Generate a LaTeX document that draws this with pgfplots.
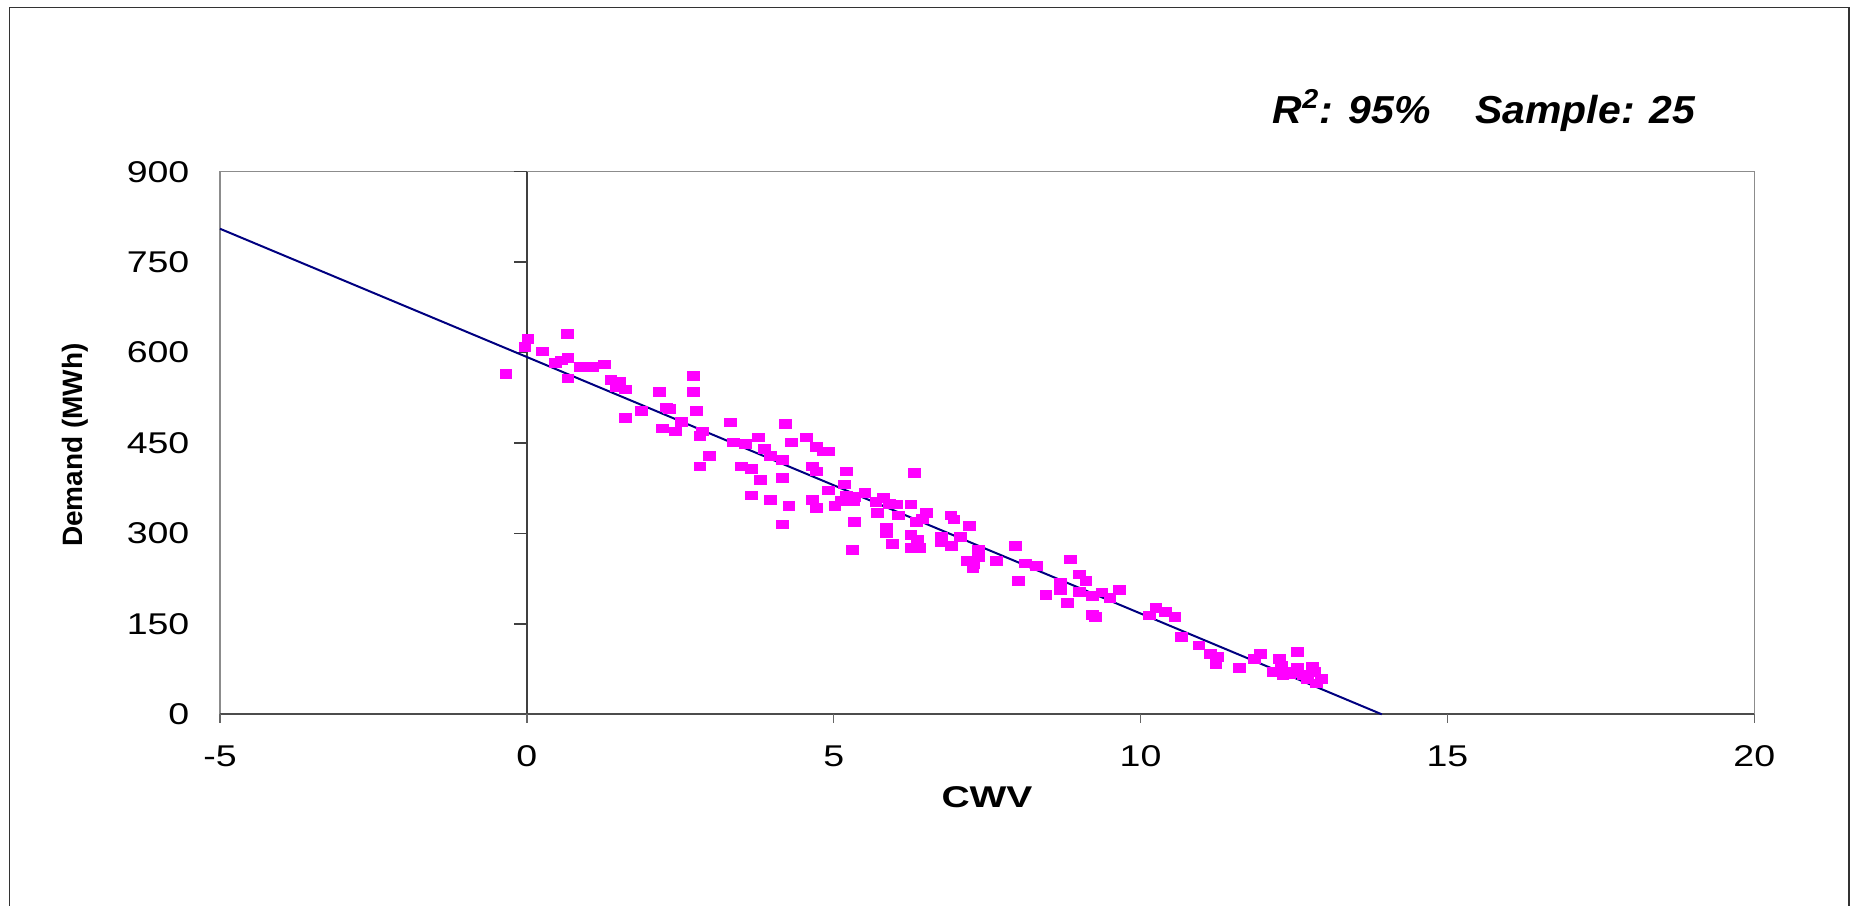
\documentclass[border=0pt]{standalone}
\usepackage{pgfplots}
\pgfplotsset{compat=1.18}
\usepackage{fontspec}
\setmainfont{Liberation Sans}
\newfontfamily\arialw[FakeStretch=1.25]{Liberation Sans}
\newfontfamily\arialcwv[FakeStretch=1.3]{Liberation Sans}
\newfontfamily\arialt[FakeStretch=1.05]{Liberation Sans}
\definecolor{mag}{RGB}{255,0,255}
\definecolor{navyline}{RGB}{0,0,128}
\definecolor{framegray}{RGB}{140,140,140}
\begin{document}
\begin{tikzpicture}
\useasboundingbox (0pt,0pt) rectangle (555.9pt,271.5pt);
% outer chart frame (bottom side falls outside the picture)
\draw[black!80, line width=0.5pt] (2.85pt,-2pt) -- (2.85pt,269.25pt) -- (554.7pt,269.25pt) -- (554.7pt,-2pt);
\begin{axis}[
  at={(66pt,57.21pt)}, anchor=south west,
  scale only axis, width=460.29pt, height=162.78pt,
  xmin=-5, xmax=20, ymin=0, ymax=900,
  xtick={-5,0,5,10,15,20}, xticklabels={-5,0,5,10,15,20},
  ytick={0,150,300,450,600,750,900}, yticklabels={0,150,300,450,600,750,900},
  major tick length=0pt, tick style={draw=none},
  axis line style={draw=framegray, line width=0.45pt},
  ticklabel style={font=\arialw\fontsize{9}{10}\selectfont, inner sep=0pt},
  xticklabel style={anchor=north, yshift=-9.2pt},
  yticklabel style={anchor=east, xshift=-9pt},
  clip=false,
]
% y axis line at x = 0 and its ticks
\draw[black!75, line width=0.4pt] (axis cs:0,0) -- (axis cs:0,900);
\pgfplotsinvokeforeach{0,150,300,450,600,750,900}{\draw[black!75, line width=0.4pt] (axis cs:0,#1) -- ++(-3.9pt,0pt);}
% x axis line at y = 0 and its ticks
\draw[black!70, line width=0.5pt] (axis cs:-5,0) -- (axis cs:20,0);
\pgfplotsinvokeforeach{-5,0,5,10,15,20}{\draw[black!60, line width=0.4pt] (axis cs:#1,0) -- ++(0pt,-2.7pt);}
\addplot[only marks, mark=square*, mark size=1.25pt, mark options={xscale=1.375, draw=mag, fill=mag}] coordinates {
(-0.34,565) (0.02,623) (-0.03,609) (0.66,631) (0.26,602) (0.47,583) (0.56,587) (0.67,591) (0.67,557)
(0.87,576) (1.07,576) (1.27,580) (1.37,554) (1.51,551) (1.46,543) (1.61,539) (1.61,492) (1.87,503)
(2.16,535) (2.27,509) (2.32,506) (2.21,474) (2.42,469) (2.52,485) (2.72,561) (2.72,535) (2.77,503)
(2.86,469) (2.82,462) (2.97,429) (2.82,411) (3.32,484) (3.37,451) (3.56,448) (3.77,459) (3.87,440)
(3.97,429) (4.16,422) (4.22,481) (4.31,451) (4.56,459) (4.72,443) (4.91,436) (4.83,436) (4.66,411)
(4.72,403) (5.21,403) (5.17,381) (4.91,371) (5.21,363) (5.34,319) (5.31,272) (3.50,411) (3.66,407)
(3.81,389) (3.66,363) (3.97,356) (4.16,392) (4.27,345) (4.16,315) (4.66,356) (4.72,342) (5.02,345)
(5.34,360) (5.33,354) (5.13,354) (5.51,367) (5.81,359) (5.69,352) (5.91,349) (6.02,348) (5.71,334)
(6.06,330) (6.26,348) (5.86,309) (5.86,301) (5.96,283) (6.31,400) (6.51,334) (6.45,324) (6.35,319)
(6.26,297) (6.36,290) (6.27,276) (6.40,276) (6.91,330) (6.96,323) (7.21,312) (6.76,294) (6.76,286)
(6.92,279) (7.07,294) (7.36,272) (7.36,261) (7.17,254) (7.28,249) (7.27,242) (7.65,254) (7.96,279)
(8.01,221) (8.12,250) (8.31,246) (8.46,198) (8.86,257) (8.70,218) (8.70,206) (8.81,185) (9.00,232)
(9.11,221) (9.00,203) (9.21,196) (9.37,202) (9.50,193) (9.65,206) (9.21,165) (9.26,161) (10.15,164)
(10.25,176) (10.40,170) (10.56,161) (10.66,128) (10.95,114) (11.14,100) (11.23,83) (11.25,95) (11.61,77)
(11.85,92) (11.96,100) (12.26,92) (12.30,81) (12.17,70) (12.32,65) (12.43,66) (12.56,103) (12.56,77)
(12.49,70) (12.65,65) (12.72,59) (12.80,78) (12.84,70) (12.86,51) (12.95,59)
};
\addplot[navyline, line width=0.6pt, no marks] coordinates {(-5,805.4) (13.93,0)};
\end{axis}
\node[anchor=base west, inner sep=0pt, font=\arialt\bfseries\itshape\fontsize{11.7}{13}\selectfont] at (381.6pt,234.6pt) {R\textsuperscript{2}: 95\%\hspace{1.15em}Sample: 25};
\node[inner sep=0pt, font=\arialcwv\bfseries\fontsize{9}{10}\selectfont] at (296.1pt,32.4pt) {CWV};
\node[inner sep=0pt, rotate=90, font=\bfseries\fontsize{8.4}{10}\selectfont] at (22.5pt,138pt) {Demand (MWh)};
\end{tikzpicture}
\end{document}
